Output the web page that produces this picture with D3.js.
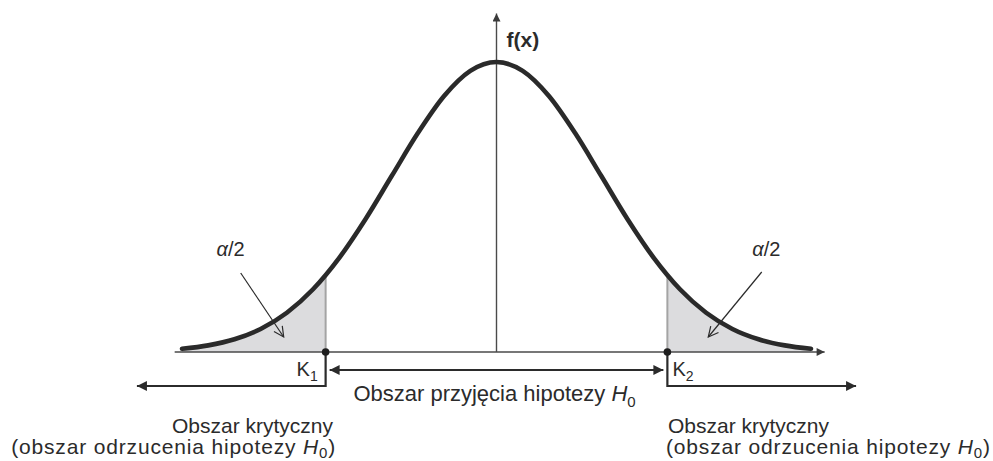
<!DOCTYPE html>
<meta charset="utf-8">
<style>
body {margin:0; background:#fff;}
text {font-family:'Liberation Sans',Arial,sans-serif; fill:#2b2b2b;}
</style>
<script src="https://d3js.org/d3.v7.min.js"></script>
<svg id="svg001"></svg>
<script>
// density curve (x in sigma units, f(x))
var zVals=[-3,-2.75,-2.5,-2.25,-2,-1.75,-1.5,-1.25,-1,-0.75,-0.5,-0.25,0,
           0.25,0.5,0.75,1,1.25,1.5,1.75,2,2.25,2.5,2.75,3];
var fVals=[0.0044,0.0091,0.0175,0.0317,0.0540,0.0863,0.1295,0.1826,0.2420,0.3011,0.3521,0.3867,0.3989,
           0.3867,0.3521,0.3011,0.2420,0.1826,0.1295,0.0863,0.0540,0.0317,0.0175,0.0091,0.0044];
var critVals=[-1.63,1.63];          // K1, K2
var critNames=['1','2'];
var midLabel='Obszar przyj\u0119cia hipotezy ';
var sideLine1='Obszar krytyczny';
var sideLine2='(obszar odrzucenia hipotezy ';

var W=993,H=461;
var xScale=d3.scaleLinear().domain([-3,3]).range([182,811]);
var yScale=d3.scaleLinear().domain([0,0.3989]).range([352,62]);
var x0=xScale(0),yb=yScale(0);

var svg=d3.select('#svg001').attr('width',W).attr('height',H);
var defs=svg.append('defs');
function mk(id,col,w,l){
  defs.append('marker').attr('id',id).attr('viewBox','0 -5 10 10')
      .attr('refX',10).attr('refY',0).attr('markerUnits','userSpaceOnUse')
      .attr('markerWidth',l).attr('markerHeight',w).attr('orient','auto-start-reverse')
      .append('path').attr('d','M0,-5L10,0L0,5Z').attr('fill',col);}
mk('ax','#3a3a3a',8,11);
mk('br','#2b2b2b',10,13);
defs.append('marker').attr('id','op').attr('viewBox','-12 -6 14 12')
    .attr('refX',0).attr('refY',0).attr('markerUnits','userSpaceOnUse')
    .attr('markerWidth',14).attr('markerHeight',12).attr('orient','auto')
    .append('path').attr('d','M-10,-5L0,0L-10,5').attr('fill','none')
    .attr('stroke','#2b2b2b').attr('stroke-width',1.2);

var data=zVals.map(function(z,i){return {z:z,f:fVals[i]};});
var area=d3.area().curve(d3.curveMonotoneX)
    .x(function(d){return xScale(d.z);}).y0(yb).y1(function(d){return yScale(d.f);});
var line=d3.line().curve(d3.curveMonotoneX)
    .x(function(d){return xScale(d.z);}).y(function(d){return yScale(d.f);});

// curve height at K, found on the drawn path
var tmp=svg.append('path').attr('d',line(data)).attr('fill','none');
var node=tmp.node(),len=node.getTotalLength();
function yAtX(px){
  var lo=0,hi=len;
  for(var k=0;k<40;k++){var mid=(lo+hi)/2; if(node.getPointAtLength(mid).x<px) lo=mid; else hi=mid;}
  return node.getPointAtLength(lo).y;}
tmp.remove();
var kY=critVals.map(function(c){return yAtX(xScale(c));});
var fK=kY.map(function(y){return yScale.invert(y);});
var left=data.filter(function(d){return d.z<critVals[0];});
var right=data.filter(function(d){return d.z>critVals[1];});
left.push({z:critVals[0],f:fK[0]});
right.unshift({z:critVals[1],f:fK[1]});

// shaded tails
[left,right].forEach(function(seg){
  svg.append('path').datum(seg).attr('d',area).attr('fill','#dcdcde');});
critVals.forEach(function(c,i){
  svg.append('line').attr('x1',xScale(c)).attr('x2',xScale(c))
     .attr('y1',yb).attr('y2',kY[i]).attr('stroke','#a4a4a4').attr('stroke-width',2);});

// axes
svg.append('line').attr('x1',xScale(-3.07)).attr('x2',xScale(3.13)).attr('y1',yb).attr('y2',yb)
   .attr('stroke','#4a4a4a').attr('stroke-width',1.4).attr('marker-end','url(#ax)');
svg.append('line').attr('x1',x0).attr('x2',x0).attr('y1',yb).attr('y2',yScale(0.4655))
   .attr('stroke','#4a4a4a').attr('stroke-width',1.4).attr('marker-end','url(#ax)');
svg.append('text').attr('x',x0+10).attr('y',47).style('font-weight','bold')
   .style('font-size','21px').text('f(x)');

// curve
svg.append('path').datum(data).attr('d',line).attr('fill','none')
   .attr('stroke','#2a2a2a').attr('stroke-width',4.6).attr('stroke-linecap','round');

// region brackets
var yMid=370,yLow=386;
var kx=critVals.map(function(c){return xScale(c);});
svg.append('line').attr('x1',kx[0]+4).attr('x2',kx[1]-4).attr('y1',yMid).attr('y2',yMid)
   .attr('stroke','#2b2b2b').attr('stroke-width',2.2)
   .attr('marker-start','url(#br)').attr('marker-end','url(#br)');
svg.append('path').attr('d','M'+kx[0]+','+yb+'V'+yLow+'H'+xScale(-3.43))
   .attr('fill','none').attr('stroke','#2b2b2b').attr('stroke-width',2.2).attr('marker-end','url(#br)');
svg.append('path').attr('d','M'+kx[1]+','+yb+'V'+yLow+'H'+xScale(3.43))
   .attr('fill','none').attr('stroke','#2b2b2b').attr('stroke-width',2.2).attr('marker-end','url(#br)');
kx.forEach(function(x){
  svg.append('circle').attr('cx',x).attr('cy',yb).attr('r',3.8).attr('fill','#1e1e1e');});

// K labels
kx.forEach(function(x,i){
  var t=svg.append('text').attr('x',i==0?x-29:x+5).attr('y',376).style('font-size','20px');
  t.append('tspan').text('K');
  t.append('tspan').attr('dy',5).style('font-size','14px').text(critNames[i]);});

// alpha/2 labels and pointers
var alphaPos=[{tx:-2.67,ax0:-2.44,ay0:273,ax1:-2.03,ay1:337},
              {tx:2.44,ax0:2.53,ay0:272,ax1:2.02,ay1:337}];
alphaPos.forEach(function(p){
  var t=svg.append('text').attr('x',xScale(p.tx)).attr('y',256).style('font-size','20px');
  t.append('tspan').style('font-style','italic').text('\u03b1');
  t.append('tspan').text('/2');
  svg.append('line').attr('x1',xScale(p.ax0)).attr('y1',p.ay0).attr('x2',xScale(p.ax1)).attr('y2',p.ay1)
     .attr('stroke','#2b2b2b').attr('stroke-width',1.2).attr('marker-end','url(#op)');});

// middle label
var mt=svg.append('text').attr('x',x0-2).attr('y',401).attr('text-anchor','middle').style('font-size','22px');
mt.append('tspan').text(midLabel);
mt.append('tspan').style('font-style','italic').text('H');
mt.append('tspan').attr('dy',6).style('font-size','15px').text('0');

// side labels (second line stretched to the width seen in the picture)
function spread(t,target){
  var w=t.node().getComputedTextLength(),n=t.text().length;
  t.style('letter-spacing',((target-w)/(n-1))+'px');}
[{x:336,anchor:'end'},{x:666,anchor:'start'}].forEach(function(s){
  svg.append('text').attr('x',s.x+(s.anchor=='end'?-3:2)).attr('y',433).attr('text-anchor',s.anchor)
     .style('font-size','21px').text(sideLine1);
  var t=svg.append('text').attr('x',s.x).attr('y',454).attr('text-anchor',s.anchor).style('font-size','21px');
  t.append('tspan').text(sideLine2);
  t.append('tspan').style('font-style','italic').text('H');
  t.append('tspan').attr('dy',4).style('font-size','15px').text('0');
  t.append('tspan').attr('dy',-4).text(')');
  spread(t,324);});
</script>
